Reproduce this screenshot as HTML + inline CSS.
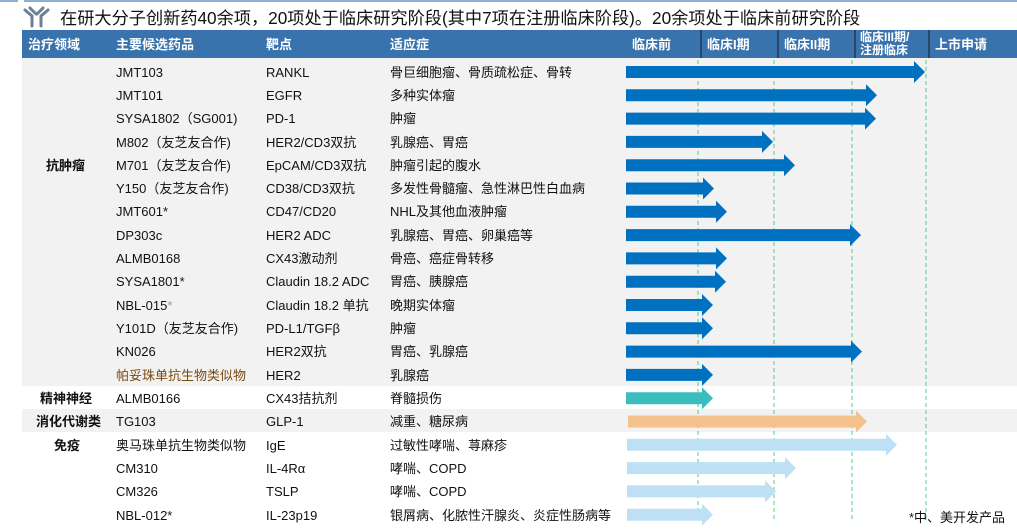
<!DOCTYPE html>
<html><head><meta charset="utf-8"><style>
body{margin:0;background:#fff;}
svg text{font-family:"Liberation Sans","Noto Sans CJK SC",sans-serif;}
</style></head><body>
<svg width="1017" height="527" viewBox="0 0 1017 527" xmlns="http://www.w3.org/2000/svg">
<rect x="0" y="0" width="1017" height="527" fill="#fff"/>
<rect x="0" y="0" width="18" height="2" fill="#8fb0d0"/>
<rect x="24" y="0" width="993" height="2" fill="#8fb0d0"/>
<g stroke="#6b7f95" stroke-width="3" fill="none" stroke-linecap="round">
<path d="M25,10 L32,16 L32,26"/><path d="M30,8 L36,14"/>
<path d="M48,10 L41,16 L41,26"/><path d="M43,8 L37,14"/>
</g>
<text x="60" y="24" font-size="17.2" fill="#111">在研大分子创新药40余项，20项处于临床研究阶段(其中7项在注册临床阶段)。20余项处于临床前研究阶段</text>
<rect x="22" y="30" width="995" height="28" fill="#3873ad"/>
<g fill="#fff" font-size="13" font-weight="bold">
<text x="28" y="49">治疗领域</text>
<text x="116" y="49">主要候选药品</text>
<text x="266" y="49">靶点</text>
<text x="390" y="49">适应症</text>
<text x="632" y="49">临床前</text>
<text x="707" y="49">临床I期</text>
<text x="784" y="49">临床II期</text>
<text x="860" y="41" font-size="12">临床III期/</text>
<text x="860" y="54" font-size="12">注册临床</text>
<text x="935" y="49">上市申请</text>
</g>
<g stroke="#1a2a3a" stroke-width="1.2">
<line x1="701" y1="30" x2="701" y2="58"/><line x1="778" y1="30" x2="778" y2="58"/>
<line x1="855" y1="30" x2="855" y2="58"/><line x1="929" y1="30" x2="929" y2="58"/>
</g>
<rect x="22" y="58" width="995" height="328" fill="#f2f2f2"/>
<rect x="22" y="409" width="995" height="23" fill="#f2f2f2"/>
<g stroke="#4fcf90" stroke-width="1" stroke-dasharray="4,3">
<line x1="698" y1="60" x2="698" y2="522"/><line x1="774" y1="60" x2="774" y2="522"/>
<line x1="852" y1="60" x2="852" y2="522"/><line x1="926" y1="60" x2="926" y2="522"/>
</g>
<g fill="#0070c0">
<path d="M626,66 H914 V61 L925,72 L914,83 V78 H626Z"/>
<path d="M626,89.3 H866 V84.3 L877,95.3 L866,106.3 V101.3 H626Z"/>
<path d="M626,112.6 H865 V107.6 L876,118.6 L865,129.6 V124.6 H626Z"/>
<path d="M626,135.9 H762 V130.9 L773,141.9 L762,152.9 V147.9 H626Z"/>
<path d="M626,159.2 H784 V154.2 L795,165.2 L784,176.2 V171.2 H626Z"/>
<path d="M626,182.5 H703 V177.5 L714,188.5 L703,199.5 V194.5 H626Z"/>
<path d="M626,205.8 H716 V200.8 L727,211.8 L716,222.8 V217.8 H626Z"/>
<path d="M626,229.1 H850 V224.1 L861,235.1 L850,246.1 V241.1 H626Z"/>
<path d="M626,252.4 H716 V247.4 L727,258.4 L716,269.4 V264.4 H626Z"/>
<path d="M626,275.7 H715 V270.7 L726,281.7 L715,292.7 V287.7 H626Z"/>
<path d="M626,299 H702 V294 L713,305 L702,316 V311 H626Z"/>
<path d="M626,322.3 H702 V317.3 L713,328.3 L702,339.3 V334.3 H626Z"/>
<path d="M626,345.6 H851 V340.6 L862,351.6 L851,362.6 V357.6 H626Z"/>
<path d="M626,368.9 H702 V363.9 L713,374.9 L702,385.9 V380.9 H626Z"/>
</g>
<path fill="#3bbdbd" d="M626,392.2 H702 V387.2 L713,398.2 L702,409.2 V404.2 H626Z"/>
<path fill="#f5c18c" d="M628,415.5 H856 V410.5 L867,421.5 L856,432.5 V427.5 H628Z"/>
<g fill="#bde0f5">
<path d="M627,438.8 H886 V433.8 L897,444.8 L886,455.8 V450.8 H627Z"/>
<path d="M627,462.1 H785 V457.1 L796,468.1 L785,479.1 V474.1 H627Z"/>
<path d="M627,485.4 H765 V480.4 L776,491.4 L765,502.4 V497.4 H627Z"/>
<path d="M627,508.7 H702 V503.7 L713,514.7 L702,525.7 V520.7 H627Z"/>
</g>
<g font-size="13" font-weight="bold" fill="#111">
<text x="46" y="170">抗肿瘤</text>
<text x="40" y="403">精神神经</text>
<text x="36" y="426">消化代谢类</text>
<text x="54" y="450">免疫</text>
</g>
<g font-size="13" fill="#111">
<text x="116" y="77">JMT103</text><text x="266" y="77">RANKL</text><text x="390" y="77">骨巨细胞瘤、骨质疏松症、骨转</text>
<text x="116" y="100">JMT101</text><text x="266" y="100">EGFR</text><text x="390" y="100">多种实体瘤</text>
<text x="116" y="123">SYSA1802（SG001)</text><text x="266" y="123">PD-1</text><text x="390" y="123">肿瘤</text>
<text x="116" y="147">M802（友芝友合作)</text><text x="266" y="147">HER2/CD3双抗</text><text x="390" y="147">乳腺癌、胃癌</text>
<text x="116" y="170">M701（友芝友合作)</text><text x="266" y="170">EpCAM/CD3双抗</text><text x="390" y="170">肿瘤引起的腹水</text>
<text x="116" y="193">Y150（友芝友合作)</text><text x="266" y="193">CD38/CD3双抗</text><text x="390" y="193">多发性骨髓瘤、急性淋巴性白血病</text>
<text x="116" y="216">JMT601*</text><text x="266" y="216">CD47/CD20</text><text x="390" y="216">NHL及其他血液肿瘤</text>
<text x="116" y="240">DP303c</text><text x="266" y="240">HER2 ADC</text><text x="390" y="240">乳腺癌、胃癌、卵巢癌等</text>
<text x="116" y="263">ALMB0168</text><text x="266" y="263">CX43激动剂</text><text x="390" y="263">骨癌、癌症骨转移</text>
<text x="116" y="286">SYSA1801*</text><text x="266" y="286">Claudin 18.2 ADC</text><text x="390" y="286">胃癌、胰腺癌</text>
<text x="116" y="310">NBL-015<tspan fill="#999">*</tspan></text><text x="266" y="310">Claudin 18.2 单抗</text><text x="390" y="310">晚期实体瘤</text>
<text x="116" y="333">Y101D（友芝友合作)</text><text x="266" y="333">PD-L1/TGFβ</text><text x="390" y="333">肿瘤</text>
<text x="116" y="356">KN026</text><text x="266" y="356">HER2双抗</text><text x="390" y="356">胃癌、乳腺癌</text>
<text x="116" y="380" fill="#7a4a10">帕妥珠单抗生物类似物</text><text x="266" y="380">HER2</text><text x="390" y="380">乳腺癌</text>
<text x="116" y="403">ALMB0166</text><text x="266" y="403">CX43拮抗剂</text><text x="390" y="403">脊髓损伤</text>
<text x="116" y="426">TG103</text><text x="266" y="426">GLP-1</text><text x="390" y="426">减重、糖尿病</text>
<text x="116" y="450">奥马珠单抗生物类似物</text><text x="266" y="450">IgE</text><text x="390" y="450">过敏性哮喘、荨麻疹</text>
<text x="116" y="473">CM310</text><text x="266" y="473">IL-4Rα</text><text x="390" y="473">哮喘、COPD</text>
<text x="116" y="496">CM326</text><text x="266" y="496">TSLP</text><text x="390" y="496">哮喘、COPD</text>
<text x="116" y="520">NBL-012*</text><text x="266" y="520">IL-23p19</text><text x="390" y="520">银屑病、化脓性汗腺炎、炎症性肠病等</text>
<text x="1005" y="522" text-anchor="end">*中、美开发产品</text>
</g>
</svg>
</body></html>
